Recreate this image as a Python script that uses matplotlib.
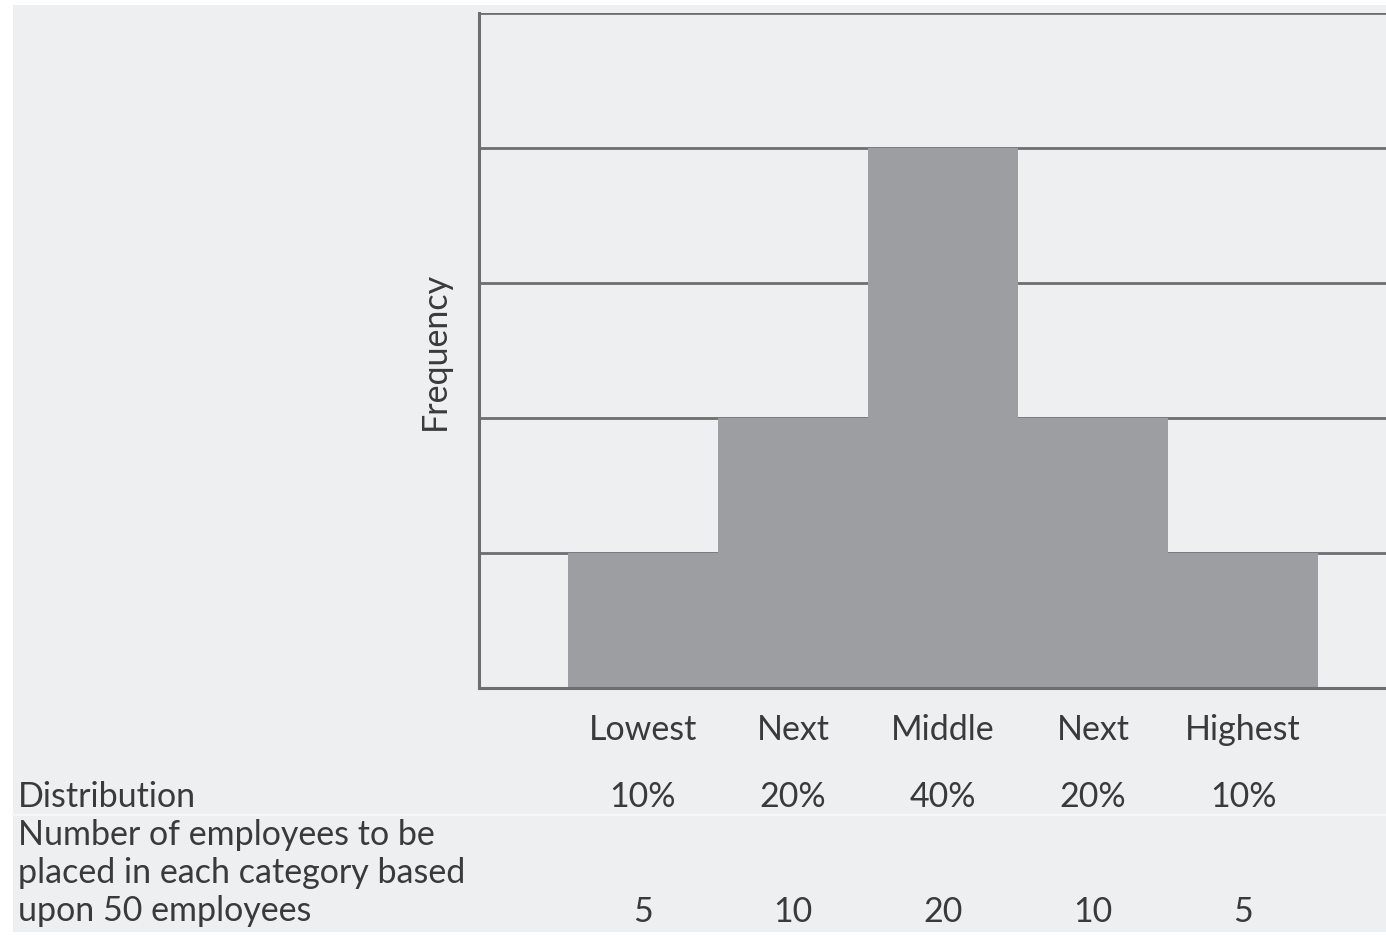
import matplotlib

matplotlib.use("Agg")
import matplotlib.pyplot as plt
from matplotlib.patches import Rectangle
from matplotlib.transforms import blended_transform_factory

plt.rcParams["font.family"] = ["Lato", "DejaVu Sans"]

# forced-distribution data
categories = ["Lowest", "Next", "Middle", "Next", "Highest"]
frequency = [1, 2, 4, 2, 1]
distribution = ["10%", "20%", "40%", "20%", "10%"]
employees = [5, 10, 20, 10, 5]
row_labels = ["Distribution",
              "Number of employees to be\nplaced in each category based\nupon 50 employees"]

BG = "#eeeff1"
BAR = "#9d9ea2"
LINE = "#6e6e70"
TEXT = "#3a3a3c"
FS = 24.5

fig = plt.figure(figsize=(13.86, 9.35), dpi=100, facecolor="white")
W, H = 1386, 935

# grey panel behind everything (thin white border at left/top/bottom)
fig.patches.append(Rectangle((13 / W, 3 / H), 1 - 13 / W, 1 - 8 / H,
                             transform=fig.transFigure, facecolor=BG,
                             edgecolor="none", zorder=-5))

ax = fig.add_axes([479 / W, 1 - 688 / H, 1 - 479 / W, (688 - 13) / H])
ax.set_facecolor(BG)
x = list(range(len(categories)))
ax.bar(x, frequency, width=1.0, color=BAR, edgecolor="none", zorder=3)

ax.set_xlim(-1.093, 4.953)
ax.set_ylim(0, 5)
ax.set_yticks([1, 2, 3, 4, 5])
ax.set_yticklabels([])
ax.tick_params(axis="y", length=0)
ax.grid(axis="y", color=LINE, lw=2, zorder=1)
ax.set_axisbelow(True)
for side in ("top", "right"):
    ax.spines[side].set_visible(False)
for side in ("left", "bottom"):
    ax.spines[side].set_color(LINE)
    ax.spines[side].set_linewidth(2.2)
    ax.spines[side].set_zorder(4)

ax.set_xticks(x)
ax.set_xticklabels(categories, fontsize=FS, color=TEXT)
ax.tick_params(axis="x", length=0, pad=19)
ax.set_ylabel("Frequency", fontsize=FS, color=TEXT, labelpad=17)

# table rows below the chart
tr = blended_transform_factory(ax.transData, fig.transFigure)
for xi, d, n in zip(x, distribution, employees):
    ax.text(xi, 1 - 797 / H, d, transform=tr, ha="center", va="center",
            fontsize=FS, color=TEXT)
    ax.text(xi, 1 - 912 / H, str(n), transform=tr, ha="center", va="center",
            fontsize=FS, color=TEXT)

fig.text(18 / W, 1 - 797 / H, row_labels[0], ha="left", va="center",
         fontsize=FS, color=TEXT)
fig.text(18 / W, 1 - 927 / H, row_labels[1], ha="left", va="bottom",
         fontsize=FS, color=TEXT, linespacing=1.24)

fig.add_artist(plt.Line2D([13 / W, 1], [1 - 815 / H, 1 - 815 / H],
                          transform=fig.transFigure, color="#f7f7f7", lw=1.5))

fig.savefig("out.png", dpi=100, facecolor=fig.get_facecolor())
